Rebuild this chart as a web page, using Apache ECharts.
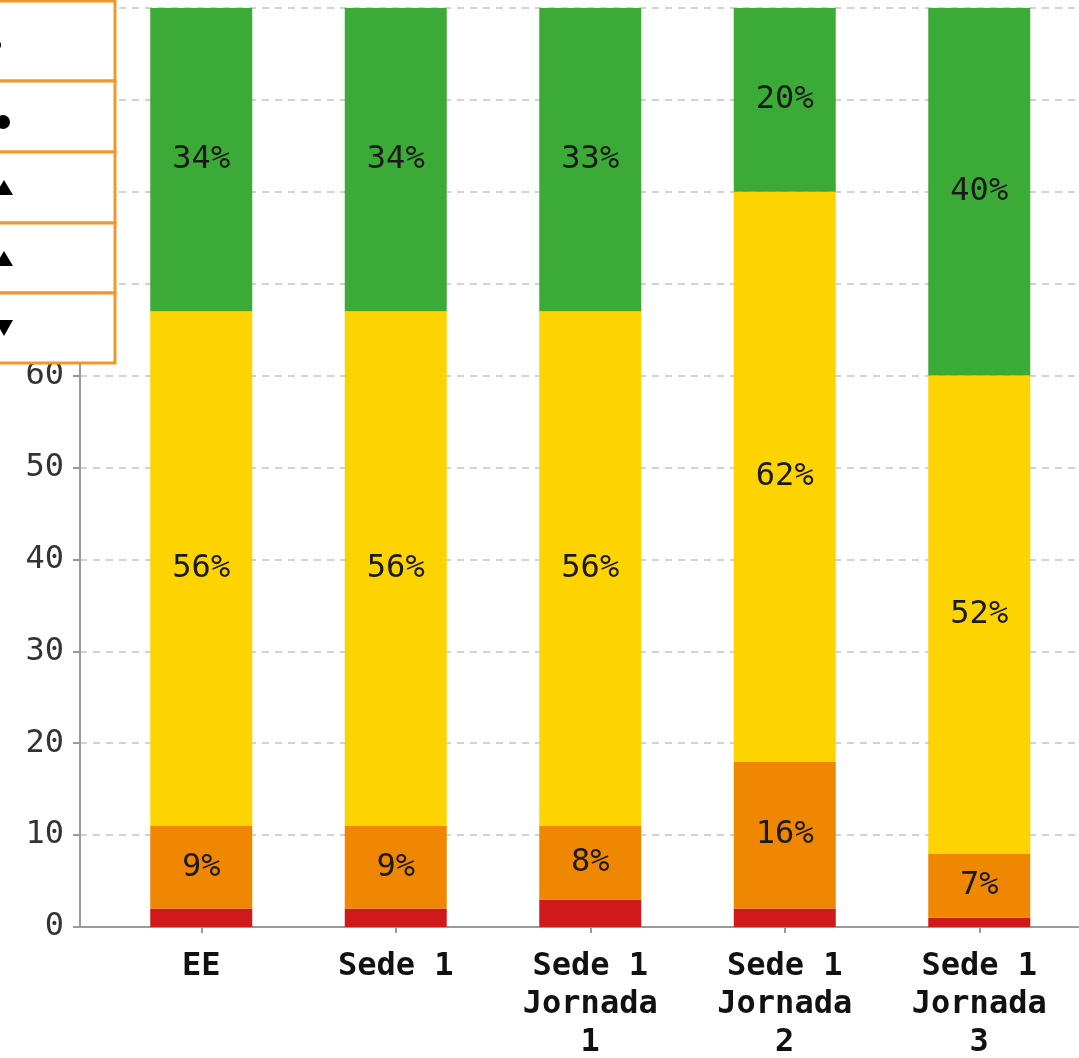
<!DOCTYPE html>
<html>
<head>
<meta charset="utf-8">
<style>
  html, body { margin: 0; padding: 0; background: #ffffff; }
  #chart { width: 1079px; height: 1058px; }
</style>
<script src="https://cdn.jsdelivr.net/npm/echarts@6/dist/echarts.min.js"></script>
</head>
<body>
<div id="chart"></div>
<script>
// ---- data ----
const categories = ['EE', 'Sede 1', 'Sede 1\nJornada\n1', 'Sede 1\nJornada\n2', 'Sede 1\nJornada\n3'];
const redValues    = [2, 2, 3, 2, 1];
const orangeValues = [9, 9, 8, 16, 7];
const yellowValues = [56, 56, 56, 62, 52];
const greenValues  = [34, 34, 33, 20, 40];
const yTickValues  = [0, 10, 20, 30, 40, 50, 60, 70, 80, 90, 100];

const MONO = '"DejaVu Sans Mono", monospace';
const chart = echarts.init(document.getElementById('chart'), null, { renderer: 'canvas' });

function barSeries(name, data, color, showLabel) {
  return {
    name: name,
    type: 'bar',
    xAxisIndex: 1,
    yAxisIndex: 1,
    stack: 'total',
    barWidth: 102,
    data: data,
    itemStyle: { color: color },
    label: {
      show: showLabel,
      position: 'inside',
      formatter: '{c}%',
      fontFamily: MONO,
      fontSize: 32,
      color: '#1a1a1a'
    },
    emphasis: { disabled: true },
    animation: false
  };
}

const ORANGE_BORDER = '#f5962a';
const rowEdges = [1, 81, 152, 223, 293, 363];
const legendGraphics = [];
for (let i = 0; i < rowEdges.length - 1; i++) {
  legendGraphics.push({
    type: 'rect',
    z: 100,
    shape: { x: -200, y: rowEdges[i], width: 315, height: rowEdges[i + 1] - rowEdges[i] },
    style: { fill: '#ffffff', stroke: ORANGE_BORDER, lineWidth: 3 }
  });
}
legendGraphics.push(
  { type: 'circle', z: 101, shape: { cx: -5, cy: 45, r: 6 }, style: { fill: '#000' } },
  { type: 'circle', z: 101, shape: { cx: 3, cy: 122, r: 7 }, style: { fill: '#000' } },
  { type: 'polygon', z: 101, shape: { points: [[4, 180], [13, 195], [-5, 195]] }, style: { fill: '#000' } },
  { type: 'polygon', z: 101, shape: { points: [[4, 251], [13, 266], [-5, 266]] }, style: { fill: '#000' } },
  { type: 'polygon', z: 101, shape: { points: [[-5, 320], [13, 320], [4, 336]] }, style: { fill: '#000' } }
);

const option = {
  backgroundColor: '#ffffff',
  animation: false,
  grid: [
    { left: 80, right: 0, top: 8, bottom: 131, outerBoundsMode: 'none', containLabel: false },
    { left: 104, right: 2.5, top: 8, bottom: 131, outerBoundsMode: 'none', containLabel: false }
  ],
  xAxis: [
    {
      gridIndex: 0, type: 'value', min: 0, max: 1,
      axisLine: { show: true, lineStyle: { color: '#9a9a9a', width: 2 } },
      axisTick: { show: false }, axisLabel: { show: false }, splitLine: { show: false }
    },
    {
      gridIndex: 1, type: 'category', data: categories,
      axisLine: { show: false },
      axisTick: { show: true, alignWithLabel: true, length: 6, lineStyle: { color: '#9a9a9a', width: 2 } },
      axisLabel: {
        fontFamily: MONO, fontWeight: 'bold', fontSize: 32, lineHeight: 38,
        color: '#111', margin: 21, interval: 0
      },
      splitLine: { show: false }
    }
  ],
  yAxis: [
    {
      gridIndex: 0, type: 'value', min: 0, max: 100, interval: 10,
      axisLine: { show: true, lineStyle: { color: '#9a9a9a', width: 2 } },
      axisTick: { show: true, length: 7, lineStyle: { color: '#9a9a9a', width: 2 } },
      axisLabel: {
        fontFamily: MONO, fontSize: 32, color: '#333', margin: 16,
        formatter: function (v) { return yTickValues.indexOf(v) >= 0 ? String(v) : ''; }
      },
      splitLine: { show: true, lineStyle: { color: '#c4c4c4', width: 1.5, type: [7, 6] } }
    },
    {
      gridIndex: 1, type: 'value', min: 0, max: 100, interval: 10, show: false
    }
  ],
  series: [
    barSeries('Rojo', redValues, '#d0191b', false),
    barSeries('Naranja', orangeValues, '#ef8700', true),
    barSeries('Amarillo', yellowValues, '#fdd400', true),
    barSeries('Verde', greenValues, '#3caa36', true)
  ],
  graphic: legendGraphics
};

chart.setOption(option);
</script>
</body>
</html>
